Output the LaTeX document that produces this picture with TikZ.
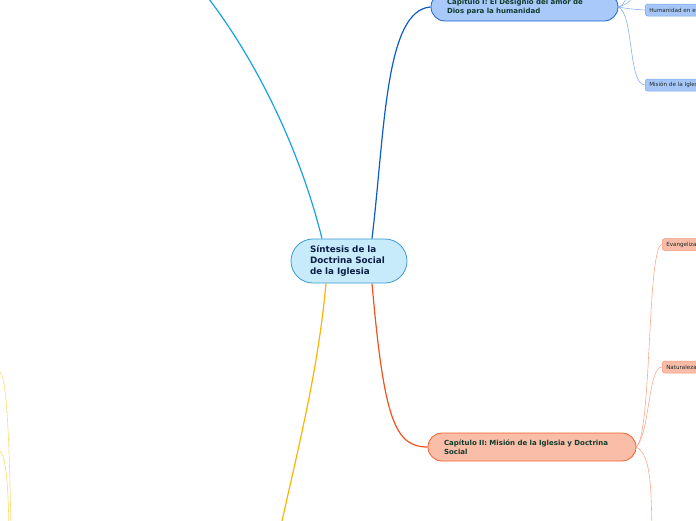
\documentclass[tikz,border=0pt]{standalone}
\usepackage{fontspec}
\setmainfont{DejaVu Sans}
\usetikzlibrary{calc,backgrounds}
\definecolor{cfill}{HTML}{C8EBFB}
\definecolor{cbord}{HTML}{3A9BD5}
\definecolor{ctext}{HTML}{0B1F45}
\definecolor{cyanline}{HTML}{17A2E6}
\definecolor{blueline}{HTML}{0B5CC6}
\definecolor{orangeline}{HTML}{FFB300}
\definecolor{redline}{HTML}{F4511E}
\definecolor{afill}{HTML}{A8C9FA}
\definecolor{abord}{HTML}{1A62D2}
\definecolor{bfill}{HTML}{F9BDA8}
\definecolor{bbord}{HTML}{F2602C}
\definecolor{chtext}{HTML}{103B2C}
\definecolor{asub}{HTML}{86B0F5}
\definecolor{asubfill}{HTML}{A6C6F8}
\definecolor{asubbord}{HTML}{76A4EE}
\definecolor{bsub}{HTML}{FCA98E}
\definecolor{bsubfill}{HTML}{F9BCA8}
\definecolor{bsubbord}{HTML}{F49776}
\definecolor{ysub}{HTML}{FFD870}
\definecolor{subtext}{HTML}{1F2A26}
\tikzset{
  mainnode/.style={draw=cbord, fill=cfill, line width=0.8pt, rounded corners=22pt,
    minimum width=116pt, minimum height=44pt, inner xsep=19pt, text width=78pt,
    align=left, text=ctext, font=\bfseries\fontsize{8.8}{11.2}\selectfont},
  chapter/.style={line width=0.8pt, rounded corners=14pt, minimum height=28pt,
    inner xsep=16pt, align=left, text=chtext, font=\bfseries\fontsize{7}{9.2}\selectfont},
  chA/.style={chapter, draw=abord, fill=afill, text width=155pt},
  chB/.style={chapter, draw=bbord, fill=bfill, text width=176pt},
  subnode/.style={rounded corners=2.5pt, line width=0.5pt, minimum height=12pt,
    minimum width=80pt, text width=72pt, inner xsep=4pt, inner ysep=0pt, align=left,
    anchor=west, text=subtext, font=\fontsize{5.6}{6.5}\selectfont},
  subA/.style={subnode, draw=asubbord, fill=asubfill},
  subB/.style={subnode, draw=bsubbord, fill=bsubfill},
  mainlink/.style={line width=1.2pt},
  sublink/.style={line width=0.6pt},
}
\begin{document}
\begin{tikzpicture}[x=1pt,y=-1pt]
\useasboundingbox (0,0) rectangle (696,520);
\clip (0,0) rectangle (696,520);

\coordinate (topleft) at (198,-15);
\coordinate (bottom) at (280,530);
\coordinate (ya1) at (0,372);
\coordinate (ya2) at (11,530);
\coordinate (yb1) at (0,451);
\coordinate (yb2) at (9,530);
\coordinate (aup1) at (627,-4);
\coordinate (aup2) at (634,-4);
\coordinate (bdown) at (652,530);

\node[mainnode] (c) at (349,261) {Síntesis de la\\Doctrina Social\\de la Iglesia};
\node[chA] (a) at (524.5,7) {Capítulo I: El Designio del amor de\\Dios para la humanidad};
\node[chB] (b) at (532,447) {Capítulo II: Misión de la Iglesia y Doctrina\\Social};

\node[subA] (a1) at (645,10) {Humanidad en el};
\node[subA] (a2) at (645,85) {Misión de la Iglesia};
\node[subB] (b1) at (662,244.5) {Evangelización};
\node[subB] (b2) at (662,367) {Naturaleza};

\begin{scope}[on background layer]
\draw[mainlink, cyanline] ([xshift=-27pt]c.north) .. controls (300,150) and (255,55) .. (topleft);
\draw[mainlink, blueline] ([xshift=23pt]c.north) .. controls (385,130) and (385,10) .. (a.west);
\draw[mainlink, orangeline] ([xshift=-23pt]c.south) .. controls (318,370) and (300,440) .. (bottom);
\draw[mainlink, redline] ([xshift=23pt]c.south) .. controls (384,420) and (395,447) .. (b.west);

\draw[sublink, asub] (a.east) .. controls (630,9) .. (a1.west);
\draw[sublink, asub] (a.east) .. controls (634,14) and (628,85) .. (a2.west);
\draw[sublink, asub] (a.east) .. controls (623,5) .. (aup1);
\draw[sublink, asub] (a.east) .. controls (627,4) .. (aup2);

\draw[sublink, bsub] (b.east) .. controls (652,432) and (647,246) .. (b1.west);
\draw[sublink, bsub] (b.east) .. controls (650,432) and (648,367) .. (b2.west);
\draw[sublink, bsub] (b.east) .. controls (650,455) and (651,480) .. (bdown);

\draw[sublink, ysub] (ya1) .. controls (6,378) and (9,420) .. (ya2);
\draw[sublink, ysub] (yb1) .. controls (6,458) and (8,480) .. (yb2);
\end{scope}
\end{tikzpicture}
\end{document}
